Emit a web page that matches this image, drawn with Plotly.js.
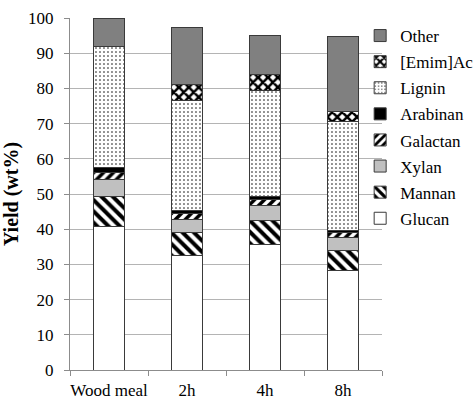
<!DOCTYPE html>
<html>
<head>
<meta charset="utf-8">
<script src="https://cdn.plot.ly/plotly-3.0.1.min.js"></script>
<style>
html,body{margin:0;padding:0;background:#fff;}
#chart{width:474px;height:403px;}
#chart text{font-family:'Liberation Serif','Times New Roman',serif !important;}
</style>
</head>
<body>
<div id="chart"></div>
<script>
const categories = ["Wood meal", "2h", "4h", "8h"];
const glucan   = [40.9, 32.4, 35.7, 28.4];
const mannan   = [8.5, 6.6, 6.7, 5.5];
const xylan    = [4.8, 3.8, 4.4, 3.8];
const galactan = [1.8, 1.7, 1.5, 1.3];
const arabinan = [1.5, 0.8, 0.9, 0.6];
const lignin   = [34.3, 31.2, 30.3, 30.9];
const emimAc   = [0.0, 4.5, 4.5, 2.9];
const other    = [8.2, 16.3, 11.0, 21.3];

const lineStyle = {color: "#3a3a3a", width: 1};
function bar(name, y, rank, marker) {
  return {
    type: "bar", name: name, x: categories, y: y, width: 0.4,
    legendgroup: name, legendrank: rank,
    marker: Object.assign({line: lineStyle}, marker),
    hoverinfo: "skip"
  };
}
const traces = [
  bar("Glucan", glucan, 8, {color: "#ffffff"}),
  bar("Mannan", mannan, 7, {color: "#ffffff", pattern: {shape: "\\", fgcolor: "#000", fgopacity: 1, bgcolor: "#fff", size: 8, solidity: 0.5, fillmode: "overlay"}}),
  bar("Xylan", xylan, 6, {color: "#c0c0c0"}),
  bar("Galactan", galactan, 5, {color: "#ffffff", pattern: {shape: "/", fgcolor: "#000", fgopacity: 1, bgcolor: "#fff", size: 7, solidity: 0.5, fillmode: "overlay"}}),
  bar("Arabinan", arabinan, 4, {color: "#000000"}),
  bar("Lignin", lignin, 3, {color: "#ffffff", pattern: {shape: ".", fgcolor: "#000", fgopacity: 1, bgcolor: "#fff", size: 4, solidity: 0.12, fillmode: "overlay"}}),
  bar("[Emim]Ac", emimAc, 2, {color: "#ffffff", pattern: {shape: "x", fgcolor: "#000", fgopacity: 1, bgcolor: "#fff", size: 7, solidity: 0.6, fillmode: "overlay"}}),
  bar("Other", other, 1, {color: "#808080"})
];

const serif = "'Liberation Serif', serif";
const layout = {
  width: 474, height: 403,
  margin: {l: 70, r: 92, t: 18, b: 33, pad: 0, autoexpand: false},
  paper_bgcolor: "#ffffff", plot_bgcolor: "#ffffff",
  barmode: "stack",
  font: {family: serif, color: "#000", size: 16},
  showlegend: true,
  legend: {
    x: 0.93, xanchor: "left", y: 1.0, yanchor: "top",
    traceorder: "grouped", tracegroupgap: 1,
    font: {family: serif, size: 17, color: "#000"},
    bgcolor: "rgba(0,0,0,0)", itemwidth: 30
  },
  xaxis: {
    type: "category",
    showline: true, linecolor: "#8c8c8c", linewidth: 1,
    ticks: "outside", tickson: "boundaries", ticklen: 5, tickcolor: "#8c8c8c",
    tickangle: 0, ticklabelstandoff: 5,
    tickfont: {family: serif, size: 17, color: "#000"},
    showgrid: false, fixedrange: true
  },
  yaxis: {
    range: [0, 100], dtick: 10, tick0: 0,
    showline: true, linecolor: "#8c8c8c", linewidth: 1,
    ticks: "outside", ticklen: 5, tickcolor: "#8c8c8c",
    ticklabelstandoff: 7,
    showgrid: true, gridcolor: "#b4b4b4", gridwidth: 1,
    zeroline: false,
    tickfont: {family: serif, size: 17, color: "#000"},
    title: {text: "<b>Yield (wt%)</b>", font: {family: serif, size: 20, color: "#000"}, standoff: 8}
  }
};

Plotly.newPlot("chart", traces, layout, {staticPlot: true, displayModeBar: false});
</script>
</body>
</html>
